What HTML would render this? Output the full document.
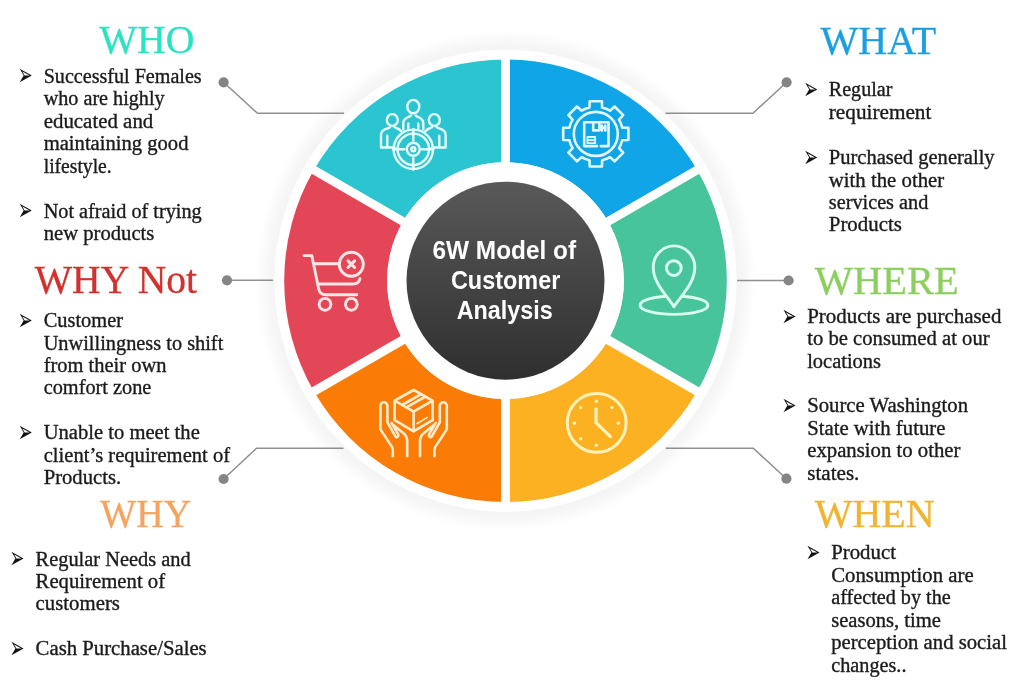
<!DOCTYPE html>
<html lang="en">
<head>
<meta charset="utf-8">
<title>6W Model of Customer Analysis</title>
<style>
html,body{margin:0;padding:0;background:#fff;}
body{width:1018px;height:687px;overflow:hidden;font-family:"Liberation Serif",serif;}
svg{display:block;opacity:0.999;}
.h{font-family:"Liberation Serif",serif;font-size:39px;stroke-width:0.3px;}
.b{font-family:"Liberation Serif","DejaVu Serif",serif;font-size:20px;fill:#1b1b1b;stroke:#1b1b1b;stroke-width:0.35px;}
.bu{font-family:"DejaVu Sans",sans-serif;font-size:17.8px;fill:#111;}
.c{font-family:"Liberation Sans",sans-serif;font-weight:bold;font-size:25px;fill:#fff;}
.ic{fill:none;stroke-linecap:round;stroke-linejoin:round;}
</style>
</head>
<body>
<svg width="1018" height="687" viewBox="0 0 1018 687">
<defs>
<filter id="blur" x="-10%" y="-10%" width="120%" height="120%"><feGaussianBlur stdDeviation="6"/></filter>
<linearGradient id="dk" x1="0" y1="0" x2="0" y2="1"><stop offset="0" stop-color="#595959"/><stop offset="1" stop-color="#2f2f2f"/></linearGradient>
</defs>
<circle cx="505.5" cy="280.7" r="242.0" fill="#f4f4f4" filter="url(#blur)"/>
<circle cx="505.5" cy="280.7" r="231.0" fill="#ffffff"/>
<path fill="#2bc4d1" d="M505.50 59.40A221.3 221.3 0 0 0 313.85 170.05L402.96 221.50A118.4 118.4 0 0 1 505.50 162.30Z"/>
<path fill="#10a5e6" d="M697.15 170.05A221.3 221.3 0 0 0 505.50 59.40L505.50 162.30A118.4 118.4 0 0 1 608.04 221.50Z"/>
<path fill="#47c49b" d="M697.15 391.35A221.3 221.3 0 0 0 697.15 170.05L608.04 221.50A118.4 118.4 0 0 1 608.04 339.90Z"/>
<path fill="#fbb122" d="M505.50 502.00A221.3 221.3 0 0 0 697.15 391.35L608.04 339.90A118.4 118.4 0 0 1 505.50 399.10Z"/>
<path fill="#fa7c07" d="M313.85 391.35A221.3 221.3 0 0 0 505.50 502.00L505.50 399.10A118.4 118.4 0 0 1 402.96 339.90Z"/>
<path fill="#e34656" d="M313.85 170.05A221.3 221.3 0 0 0 313.85 391.35L402.96 339.90A118.4 118.4 0 0 1 402.96 221.50Z"/>
<line x1="505.50" y1="166.30" x2="505.50" y2="55.40" stroke="#fff" stroke-width="8.8"/>
<line x1="604.57" y1="223.50" x2="700.62" y2="168.05" stroke="#fff" stroke-width="8.8"/>
<line x1="604.57" y1="337.90" x2="700.62" y2="393.35" stroke="#fff" stroke-width="8.8"/>
<line x1="505.50" y1="395.10" x2="505.50" y2="506.00" stroke="#fff" stroke-width="8.8"/>
<line x1="406.43" y1="337.90" x2="310.38" y2="393.35" stroke="#fff" stroke-width="8.8"/>
<line x1="406.43" y1="223.50" x2="310.38" y2="168.05" stroke="#fff" stroke-width="8.8"/>
<circle cx="505.5" cy="280.7" r="118.4" fill="#fff"/>
<circle cx="505.5" cy="280.7" r="99.0" fill="url(#dk)"/>
<g class="ic" stroke="#e6ffff" stroke-width="2.4">
<ellipse cx="413.3" cy="106.6" rx="6" ry="6.7"/>
<path d="M403.3 129.4V123.2Q403.3 118.6 409.9 116.4L411 115.4M423.3 129.4V123.2Q423.3 118.6 416.7 116.4L415.6 115.4M408.3 123.5V128.6M418.3 123.5V128.6"/>
<ellipse cx="392.3" cy="120" rx="5.5" ry="5.9"/>
<path d="M394.8 147.5H381V134.8Q381 130.2 388.2 128.2L390 127.2M387.3 135.8V147.5M394.6 127.2L396.2 128Q399.6 129 401.2 131.2"/>
<ellipse cx="434.3" cy="120" rx="5.5" ry="5.9"/>
<path d="M431.8 147.5H445.6V134.8Q445.6 130.2 438.4 128.2L436.6 127.2M439.3 135.8V147.5M432.0 127.2L430.4 128Q427.0 129 425.4 131.2"/>
<circle cx="413.3" cy="149.3" r="19.7"/><circle cx="413.3" cy="149.3" r="15.7"/><circle cx="413.3" cy="149.3" r="6.5"/><circle cx="413.3" cy="149.3" r="2"/>
<path d="M413.3 129.10000000000002V140.5M413.3 158.10000000000002V169.5M393.1 149.3H404.5M422.1 149.3H433.5"/>
</g>
<g class="ic" stroke="#e0f8ff" stroke-width="2.6">
<path d="M589.5 107.5L589.7 101.3L601.9 101.3L602.1 107.5A27.2 27.2 0 0 1 610.0 110.7L614.6 106.5L623.2 115.1L619.0 119.7A27.2 27.2 0 0 1 622.2 127.6L628.4 127.8L628.4 140.0L622.2 140.2A27.2 27.2 0 0 1 619.0 148.1L623.2 152.7L614.6 161.3L610.0 157.1A27.2 27.2 0 0 1 602.1 160.3L601.9 166.5L589.7 166.5L589.5 160.3A27.2 27.2 0 0 1 581.6 157.1L577.0 161.3L568.4 152.7L572.6 148.1A27.2 27.2 0 0 1 569.4 140.2L563.2 140.0L563.2 127.8L569.4 127.6A27.2 27.2 0 0 1 572.6 119.7L568.4 115.1L577.0 106.5L581.6 110.7A27.2 27.2 0 0 1 589.5 107.5Z"/>
<circle cx="595.8" cy="133.9" r="22"/>
<path d="M600.8 146.1H608.5V122.3H584.2V146.1H597"/>
<path d="M593.2 122.8V130.4H599.4V122.8M602 125.5V130.6M605.3 125.5V130.6M602 128H605.3"/>
<path stroke-width="1.8" d="M587.4 137H595.2V143.2H587.4ZM587.4 140.1H595.2"/>
</g>
<g class="ic" stroke="#d9fff0" stroke-width="2.9">
<ellipse cx="674" cy="305.2" rx="33.9" ry="9.2"/>
<path fill="#47c49b" d="M674 306.8C669 298 653.2 284 653.2 267.5C653.2 255.6 662.5 245.9 674 245.9C685.5 245.9 694.8 255.6 694.8 267.5C694.8 284 679 298 674 306.8Z"/>
<circle cx="673.8" cy="268.1" r="7.4"/>
</g>
<g class="ic" stroke="#fff2b8" stroke-width="3">
<circle cx="596.7" cy="422.8" r="29.4"/>
<path stroke-width="3.3" d="M596 408.8V422.6L610.4 436.6"/>
</g>
<g fill="#fff2b8"><circle cx="618.3" cy="423.2" r="1.7"/><circle cx="596.3" cy="445.2" r="1.7"/><circle cx="580.7" cy="438.8" r="1.7"/><circle cx="574.3" cy="423.2" r="1.7"/><circle cx="580.7" cy="407.6" r="1.7"/><circle cx="596.3" cy="401.2" r="1.7"/><circle cx="611.9" cy="407.6" r="1.7"/></g>
<g class="ic" stroke="#ffeccc" stroke-width="2.6">
<path d="M413.6 390L432.6 400.6V420.2L413.6 431.4L394.6 420.2V400.6ZM394.6 400.6L413.6 411.6L432.6 400.6M413.6 411.6V431.4"/>
<path d="M402.2 405L421.2 394.2M406.4 407.4L425.4 396.6"/>
<path stroke-width="1.8" stroke-dasharray="1.6 1.8" d="M417.2 423.6L427.4 417.4"/>
<path d="M380.4 405.8A3.5 3.5 0 0 1 387.4 405.8V422.4L395.4 436.4A1.7 1.7 0 0 0 398.3 434.7L391.6 423M380.4 405.8V429.4L391.8 446.6Q392.8 448.2 392.8 450.5V456.2M392.4 424.2L403.8 433.4Q407.2 436.3 407.2 441.3V456.2"/>
<path d="M446.8 405.8A3.5 3.5 0 0 0 439.8 405.8V422.4L431.8 436.4A1.7 1.7 0 0 1 428.9 434.7L435.6 423M446.8 405.8V429.4L435.4 446.6Q434.4 448.2 434.4 450.5V456.2M434.8 424.2L423.4 433.4Q420.0 436.3 420.0 441.3V456.2"/>
</g>
<g class="ic" stroke="#ffe6e6" stroke-width="2.9">
<path d="M304 255.6H311.8L318.6 288.5Q319.8 294.8 325.5 294.8H356.8M314 263.8H338.5M317.8 284H353Q359 284 360 278.6"/>
<circle cx="325" cy="304.3" r="5.9"/><circle cx="351.3" cy="304.3" r="5.9"/><circle cx="351.3" cy="264.2" r="12"/>
<path stroke-width="3" d="M348 260.9L354.6 267.5M354.6 260.9L348 267.5"/>
</g>
<path d="M223.6 82.3L257.5 113.3L344 113.3" fill="none" stroke="#8f8f8f" stroke-width="1.5"/>
<circle cx="223.6" cy="82.3" r="5.1" fill="#858585"/>
<path d="M786.6 82.3L752.9 113.3L665.5 113.3" fill="none" stroke="#8f8f8f" stroke-width="1.5"/>
<circle cx="786.6" cy="82.3" r="5.1" fill="#858585"/>
<path d="M227 280.3L273 280.3" fill="none" stroke="#8f8f8f" stroke-width="1.5"/>
<circle cx="227" cy="280.3" r="5.1" fill="#858585"/>
<path d="M788.6 280.5L737.1 280.5" fill="none" stroke="#8f8f8f" stroke-width="1.5"/>
<circle cx="788.6" cy="280.5" r="5.1" fill="#858585"/>
<path d="M223.6 479.0L256.5 448.3L343.5 448.3" fill="none" stroke="#8f8f8f" stroke-width="1.5"/>
<circle cx="223.6" cy="479.0" r="5.1" fill="#858585"/>
<path d="M786.4 478.7L753.3 448.3L665.8 448.3" fill="none" stroke="#8f8f8f" stroke-width="1.5"/>
<circle cx="786.4" cy="478.7" r="5.1" fill="#858585"/>
<text class="h" x="99.6" y="52.8" fill="#2be3c3" stroke="#2be3c3" textLength="94.9" lengthAdjust="spacingAndGlyphs">WHO</text>
<text class="h" x="34.8" y="293.0" fill="#d2322d" stroke="#d2322d" textLength="162.2" lengthAdjust="spacingAndGlyphs">WHY Not</text>
<text class="h" x="100.3" y="526.7" fill="#f4a460" stroke="#f4a460" textLength="90.9" lengthAdjust="spacingAndGlyphs">WHY</text>
<text class="h" x="820.5" y="53.7" fill="#1a9fe0" stroke="#1a9fe0" textLength="115.6" lengthAdjust="spacingAndGlyphs">WHAT</text>
<text class="h" x="814.8" y="293.6" fill="#8ccf5f" stroke="#8ccf5f" textLength="143.9" lengthAdjust="spacingAndGlyphs">WHERE</text>
<text class="h" x="814.8" y="526.5" fill="#efb431" stroke="#efb431" textLength="119.8" lengthAdjust="spacingAndGlyphs">WHEN</text>
<text class="bu" transform="translate(17.7,85.45) scale(1,1.71)">➢</text>
<text class="b" x="43.7" y="82.7" textLength="158.0" lengthAdjust="spacingAndGlyphs">Successful Females</text>
<text class="b" x="43.7" y="105.3" textLength="120.9" lengthAdjust="spacingAndGlyphs">who are highly</text>
<text class="b" x="43.7" y="127.7" textLength="109.6" lengthAdjust="spacingAndGlyphs">educated and</text>
<text class="b" x="43.7" y="150.3" textLength="144.8" lengthAdjust="spacingAndGlyphs">maintaining good</text>
<text class="b" x="43.7" y="172.7" textLength="68.0" lengthAdjust="spacingAndGlyphs">lifestyle.</text>
<text class="bu" transform="translate(17.7,220.45) scale(1,1.71)">➢</text>
<text class="b" x="43.7" y="217.7" textLength="158.0" lengthAdjust="spacingAndGlyphs">Not afraid of trying</text>
<text class="b" x="43.7" y="240.3" textLength="110.7" lengthAdjust="spacingAndGlyphs">new products</text>
<text class="bu" transform="translate(17.7,329.75) scale(1,1.71)">➢</text>
<text class="b" x="43.7" y="327.0" textLength="79.3" lengthAdjust="spacingAndGlyphs">Customer</text>
<text class="b" x="43.7" y="349.6" textLength="179.6" lengthAdjust="spacingAndGlyphs">Unwillingness to shift</text>
<text class="b" x="43.7" y="371.9" textLength="122.8" lengthAdjust="spacingAndGlyphs">from their own</text>
<text class="b" x="43.7" y="394.4" textLength="107.7" lengthAdjust="spacingAndGlyphs">comfort zone</text>
<text class="bu" transform="translate(17.7,442.15) scale(1,1.71)">➢</text>
<text class="b" x="43.7" y="439.4" textLength="156.1" lengthAdjust="spacingAndGlyphs">Unable to meet the</text>
<text class="b" x="43.7" y="461.6" textLength="186.4" lengthAdjust="spacingAndGlyphs">client’s requirement of</text>
<text class="b" x="43.7" y="484.1" textLength="77.4" lengthAdjust="spacingAndGlyphs">Products.</text>
<text class="bu" transform="translate(9.5,568.45) scale(1,1.71)">➢</text>
<text class="b" x="35.6" y="565.7" textLength="155.1" lengthAdjust="spacingAndGlyphs">Regular Needs and</text>
<text class="b" x="35.6" y="588.0" textLength="129.5" lengthAdjust="spacingAndGlyphs">Requirement of</text>
<text class="b" x="35.6" y="610.3" textLength="84.3" lengthAdjust="spacingAndGlyphs">customers</text>
<text class="bu" transform="translate(9.5,658.05) scale(1,1.71)">➢</text>
<text class="b" x="35.6" y="655.3" textLength="171.1" lengthAdjust="spacingAndGlyphs">Cash Purchase/Sales</text>
<text class="bu" transform="translate(803.2,99.15) scale(1,1.71)">➢</text>
<text class="b" x="828.8" y="96.4" textLength="63.6" lengthAdjust="spacingAndGlyphs">Regular</text>
<text class="b" x="828.8" y="119.0" textLength="102.6" lengthAdjust="spacingAndGlyphs">requirement</text>
<text class="bu" transform="translate(803.2,166.95) scale(1,1.71)">➢</text>
<text class="b" x="828.8" y="164.2" textLength="165.8" lengthAdjust="spacingAndGlyphs">Purchased generally</text>
<text class="b" x="828.8" y="186.5" textLength="115.4" lengthAdjust="spacingAndGlyphs">with the other</text>
<text class="b" x="828.8" y="208.9" textLength="99.5" lengthAdjust="spacingAndGlyphs">services and</text>
<text class="b" x="828.8" y="231.2" textLength="73.0" lengthAdjust="spacingAndGlyphs">Products</text>
<text class="bu" transform="translate(781.6,325.95) scale(1,1.71)">➢</text>
<text class="b" x="807.2" y="323.2" textLength="194.2" lengthAdjust="spacingAndGlyphs">Products are purchased</text>
<text class="b" x="807.2" y="345.4" textLength="182.4" lengthAdjust="spacingAndGlyphs">to be consumed at our</text>
<text class="b" x="807.2" y="367.7" textLength="73.8" lengthAdjust="spacingAndGlyphs">locations</text>
<text class="bu" transform="translate(781.6,415.15) scale(1,1.71)">➢</text>
<text class="b" x="807.2" y="412.4" textLength="160.9" lengthAdjust="spacingAndGlyphs">Source Washington</text>
<text class="b" x="807.2" y="434.9" textLength="138.2" lengthAdjust="spacingAndGlyphs">State with future</text>
<text class="b" x="807.2" y="457.4" textLength="153.3" lengthAdjust="spacingAndGlyphs">expansion to other</text>
<text class="b" x="807.2" y="479.7" textLength="52.2" lengthAdjust="spacingAndGlyphs">states.</text>
<text class="bu" transform="translate(805.6,561.75) scale(1,1.71)">➢</text>
<text class="b" x="831.2" y="559.0" textLength="64.8" lengthAdjust="spacingAndGlyphs">Product</text>
<text class="b" x="831.2" y="581.6" textLength="142.5" lengthAdjust="spacingAndGlyphs">Consumption are</text>
<text class="b" x="831.2" y="604.1" textLength="119.6" lengthAdjust="spacingAndGlyphs">affected by the</text>
<text class="b" x="831.2" y="626.6" textLength="109.7" lengthAdjust="spacingAndGlyphs">seasons, time</text>
<text class="b" x="831.2" y="649.0" textLength="175.7" lengthAdjust="spacingAndGlyphs">perception and social</text>
<text class="b" x="831.2" y="671.6" textLength="75.3" lengthAdjust="spacingAndGlyphs">changes..</text>
<text class="c" x="432.5" y="259.2" textLength="143.6" lengthAdjust="spacingAndGlyphs">6W Model of</text>
<text class="c" x="450.9" y="289.3" textLength="109.4" lengthAdjust="spacingAndGlyphs">Customer</text>
<text class="c" x="456.7" y="318.9" textLength="96.1" lengthAdjust="spacingAndGlyphs">Analysis</text>
</svg>
</body>
</html>
